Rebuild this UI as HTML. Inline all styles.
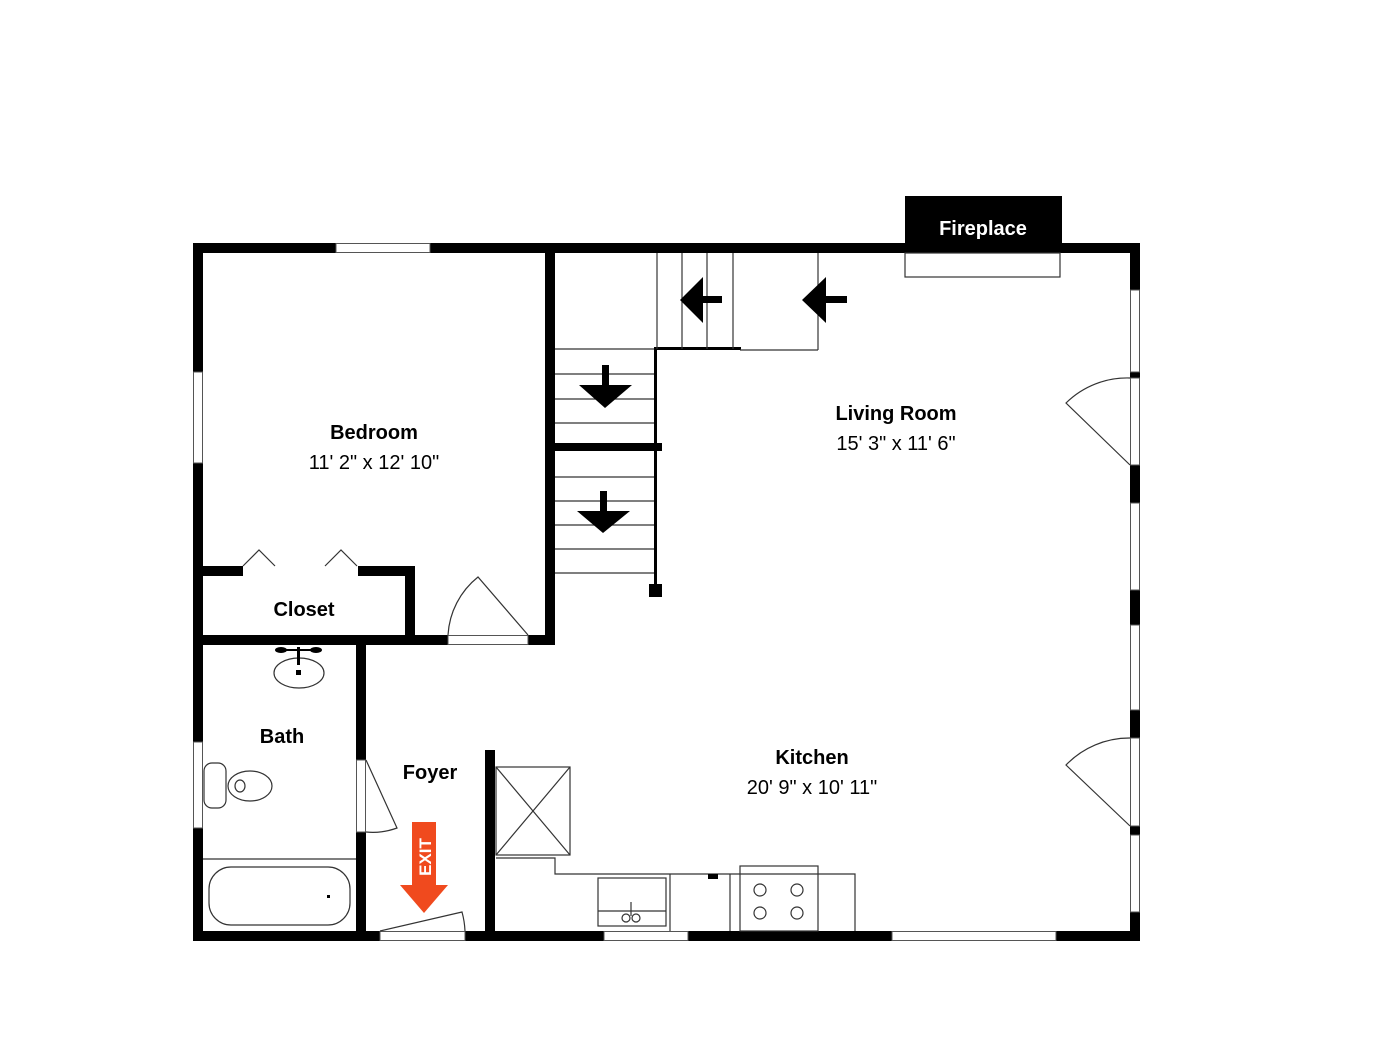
<!DOCTYPE html>
<html><head><meta charset="utf-8"><style>body{margin:0;background:#fff}</style></head><body>
<svg width="1400" height="1050" xmlns="http://www.w3.org/2000/svg" style="display:block;font-family:'Liberation Sans',Arial,sans-serif">
<rect width="1400" height="1050" fill="#fff"/>
<g fill="#000">
<rect x="193" y="243" width="947" height="10"/>
<rect x="193" y="243" width="10" height="698"/>
<rect x="193" y="931" width="947" height="10"/>
<rect x="1130" y="243" width="10" height="698"/>
<rect x="905" y="196" width="157" height="57"/>
<rect x="545" y="253" width="10" height="392"/>
<rect x="203" y="566" width="40" height="10"/>
<rect x="358" y="566" width="57" height="10"/>
<rect x="405" y="566" width="10" height="79"/>
<rect x="193" y="635" width="362" height="10"/>
<rect x="356" y="645" width="10" height="286"/>
<rect x="485" y="750" width="10" height="181"/>
<rect x="555" y="443" width="107" height="8"/>
<rect x="654" y="349" width="3" height="241"/>
<rect x="654" y="347" width="87" height="3"/>
<rect x="649" y="584" width="13" height="13"/>
</g>
<g fill="#fff" stroke="#555" stroke-width="1">
<rect x="336" y="243.5" width="94" height="9"/>
<rect x="193.5" y="372" width="9" height="91"/>
<rect x="193.5" y="742" width="9" height="86"/>
<rect x="448" y="635.5" width="80" height="9"/>
<rect x="356.5" y="760" width="9" height="72"/>
<rect x="380" y="931.5" width="85" height="9"/>
<rect x="604" y="931.5" width="84" height="9"/>
<rect x="892" y="931.5" width="164" height="9"/>
<rect x="1130.5" y="290" width="9" height="82"/>
<rect x="1130.5" y="378" width="9" height="87"/>
<rect x="1130.5" y="503" width="9" height="87"/>
<rect x="1130.5" y="625" width="9" height="85"/>
<rect x="1130.5" y="738" width="9" height="88"/>
<rect x="1130.5" y="835" width="9" height="77"/>
</g>
<g fill="none" stroke="#333" stroke-width="1.2">
<rect x="905" y="253" width="155" height="24"/>
<line x1="657" y1="253" x2="657" y2="349"/>
<line x1="682" y1="253" x2="682" y2="349"/>
<line x1="707" y1="253" x2="707" y2="349"/>
<line x1="733" y1="253" x2="733" y2="349"/>
<line x1="818" y1="253" x2="818" y2="350"/>
<line x1="740" y1="350" x2="818" y2="350"/>
<line x1="555" y1="349" x2="654" y2="349"/>
<line x1="555" y1="374" x2="654" y2="374"/>
<line x1="555" y1="399" x2="654" y2="399"/>
<line x1="555" y1="423" x2="654" y2="423"/>
<line x1="555" y1="477" x2="654" y2="477"/>
<line x1="555" y1="501" x2="654" y2="501"/>
<line x1="555" y1="525" x2="654" y2="525"/>
<line x1="555" y1="549" x2="654" y2="549"/>
<line x1="555" y1="573" x2="654" y2="573"/>
<polyline points="243,566 259,550 275,566"/>
<polyline points="325,566 341,550 357,566"/>
<path d="M448,635 A80,80 0 0 1 478,577 L528,635"/>
<path d="M366,760 L397,828 A70,70 0 0 1 366,832"/>
<path d="M380,931 L462,912 A85,85 0 0 1 465,931"/>
<path d="M1130,378 A87,87 0 0 0 1066,403 L1130,465"/>
<path d="M1130,738 A88,88 0 0 0 1066,765 L1130,826"/>
<ellipse cx="299" cy="673" rx="25" ry="15"/>
<line x1="203" y1="859" x2="356" y2="859"/>
<rect x="209" y="867" width="141" height="58" rx="22"/>
<rect x="204" y="763" width="22" height="45" rx="8"/>
<ellipse cx="250" cy="786" rx="22" ry="15"/>
<ellipse cx="240" cy="786" rx="5" ry="6"/>
<rect x="496" y="767" width="74" height="88"/>
<line x1="496" y1="767" x2="570" y2="855"/>
<line x1="570" y1="767" x2="496" y2="855"/>
<polyline points="496,858 555,858 555,874 855,874 855,931"/>
<rect x="598" y="878" width="68" height="48"/>
<line x1="598" y1="911" x2="666" y2="911"/>
<line x1="670" y1="874" x2="670" y2="931"/>
<line x1="730" y1="874" x2="730" y2="931"/>
<rect x="740" y="866" width="78" height="65"/>
<circle cx="760" cy="890" r="6"/><circle cx="797" cy="890" r="6"/>
<circle cx="760" cy="913" r="6"/><circle cx="797" cy="913" r="6"/>
<circle cx="626" cy="918" r="4"/><circle cx="636" cy="918" r="4"/>
<line x1="631" y1="902" x2="631" y2="916"/>
</g>
<g fill="#000">
<rect x="708" y="874" width="10" height="5"/>
<rect x="296" y="670" width="5" height="5"/>
<rect x="327" y="895" width="3" height="3"/>
<ellipse cx="281" cy="650" rx="6" ry="3"/><ellipse cx="316" cy="650" rx="6" ry="3"/>
<rect x="281" y="649" width="35" height="2"/><rect x="297" y="647" width="3" height="18"/>
<polygon points="680,300 703,277 703,323"/><rect x="700" y="296" width="22" height="7"/>
<polygon points="802,300 826,277 826,323"/><rect x="822" y="296" width="25" height="7"/>
<polygon points="579,385 632,385 605,408"/><rect x="602" y="365" width="7" height="22"/>
<polygon points="577,511 630,511 603,533"/><rect x="600" y="491" width="7" height="22"/>
</g>
<rect x="412" y="822" width="24" height="64" fill="#f04a1e"/>
<polygon points="400,885 448,885 424,913" fill="#f04a1e"/>
<text x="0" y="0" transform="translate(431,857) rotate(-90)" text-anchor="middle" fill="#fff" font-weight="bold" font-size="17">EXIT</text>
<g text-anchor="middle" font-size="20">
<text x="983" y="235" fill="#fff" font-weight="bold">Fireplace</text>
<text x="374" y="439" font-weight="bold">Bedroom</text>
<text x="374" y="469">11' 2" x 12' 10"</text>
<text x="896" y="420" font-weight="bold">Living Room</text>
<text x="896" y="450">15' 3" x 11' 6"</text>
<text x="812" y="764" font-weight="bold">Kitchen</text>
<text x="812" y="794">20' 9" x 10' 11"</text>
<text x="304" y="616" font-weight="bold">Closet</text>
<text x="282" y="743" font-weight="bold">Bath</text>
<text x="430" y="779" font-weight="bold">Foyer</text>
</g>
</svg>
</body></html>
